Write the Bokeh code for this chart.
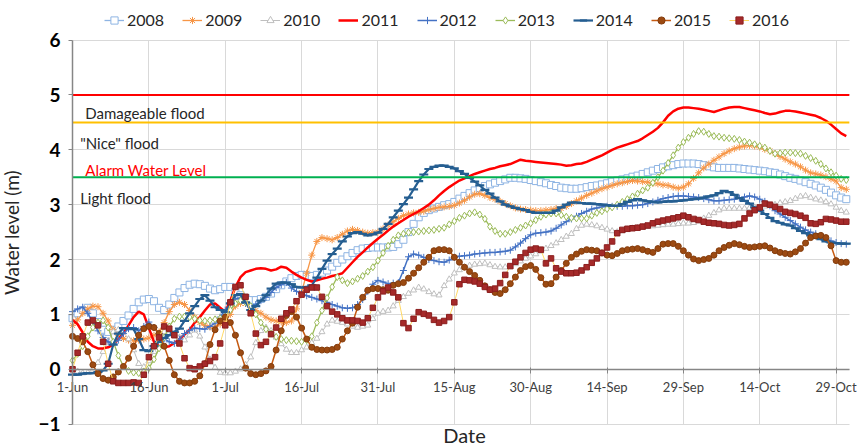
from bokeh.plotting import figure
from bokeh.models import (Range1d, FixedTicker, Label, Legend, LegendItem,
                          ColumnDataSource)
from bokeh.embed import file_html
from bokeh.resources import INLINE

# ---------------- data ----------------
tick_days = [0, 15, 30, 45, 60, 75, 90, 105, 120, 135, 150]
tick_labels = ["1-Jun", "16-Jun", "1-Jul", "16-Jul", "31-Jul", "15-Aug",
               "30-Aug", "14-Sep", "29-Sep", "14-Oct", "29-Oct"]
y_ticks = [-1, 0, 1, 2, 3, 4, 5, 6]

years = ["2008", "2009", "2010", "2011", "2012", "2013", "2014", "2015", "2016"]

lvl_2008 = [0.93, 1.02, 1.08, 1.12, 1.02, 0.86, 0.72, 0.68, 0.72, 0.78,
            0.88, 0.98, 1.10, 1.22, 1.27, 1.28, 1.24, 1.12, 1.08, 1.18,
            1.30, 1.40, 1.48, 1.54, 1.56, 1.55, 1.52, 1.47, 1.44, 1.46,
            1.50, 1.50, 1.42, 1.35, 1.30, 1.26, 1.26, 1.28, 1.32, 1.38,
            1.46, 1.53, 1.60, 1.66, 1.70, 1.72, 1.71, 1.70, 1.72, 1.76,
            1.80, 1.87, 1.94, 2.00, 2.06, 2.12, 2.17, 2.20, 2.21, 2.22,
            2.22, 2.22, 2.22, 2.23, 2.28, 2.36, 2.50, 2.65, 2.77, 2.85,
            2.90, 2.93, 2.96, 2.99, 3.01, 3.05, 3.11, 3.16, 3.21, 3.26,
            3.30, 3.34, 3.37, 3.40, 3.43, 3.46, 3.49, 3.49, 3.48, 3.47,
            3.45, 3.43, 3.41, 3.39, 3.36, 3.34, 3.31, 3.30, 3.29, 3.29,
            3.30, 3.32, 3.34, 3.35, 3.37, 3.39, 3.42, 3.44, 3.46, 3.48,
            3.51, 3.53, 3.56, 3.59, 3.62, 3.65, 3.68, 3.70, 3.72, 3.74,
            3.75, 3.75, 3.75, 3.74, 3.72, 3.70, 3.68, 3.67, 3.67, 3.67,
            3.67, 3.66, 3.65, 3.64, 3.63, 3.62, 3.61, 3.59, 3.58, 3.55,
            3.52, 3.49, 3.47, 3.44, 3.41, 3.38, 3.35, 3.31, 3.27, 3.22,
            3.17, 3.13, 3.10]

lvl_2009 = [0.80, 0.90, 1.02, 1.10, 1.15, 1.14, 1.02, 0.88, 0.72, 0.62,
            0.56, 0.53, 0.52, 0.53, 0.55, 0.57, 0.62, 0.68, 0.85, 1.05,
            1.18, 1.22, 1.18, 1.07, 0.95, 0.85, 0.80, 0.77, 0.78, 0.82,
            0.88, 1.00, 1.15, 1.20, 1.20, 1.14, 1.07, 1.02, 0.95, 0.90,
            0.88, 0.86, 0.85, 0.88, 1.10, 1.40, 1.75, 2.08, 2.33, 2.40,
            2.38, 2.36, 2.40, 2.46, 2.52, 2.55, 2.53, 2.50, 2.48, 2.49,
            2.50, 2.56, 2.63, 2.69, 2.75, 2.80, 2.83, 2.85, 2.86, 2.88,
            2.91, 2.93, 2.95, 2.96, 2.97, 2.99, 3.03, 3.08, 3.14, 3.19,
            3.20, 3.17, 3.13, 3.10, 3.06, 3.02, 2.98, 2.94, 2.92, 2.91,
            2.90, 2.89, 2.89, 2.90, 2.91, 2.93, 2.93, 2.97, 3.02, 3.07,
            3.12, 3.17, 3.21, 3.25, 3.29, 3.32, 3.35, 3.38, 3.40, 3.42,
            3.44, 3.43, 3.42, 3.41, 3.39, 3.38, 3.36, 3.35, 3.32, 3.30,
            3.32, 3.38, 3.48, 3.58, 3.67, 3.74, 3.81, 3.87, 3.93, 3.98,
            4.02, 4.05, 4.07, 4.08, 4.07, 4.05, 4.01, 3.98, 3.93, 3.88,
            3.83, 3.78, 3.74, 3.69, 3.63, 3.58, 3.56, 3.54, 3.51, 3.47,
            3.43, 3.31, 3.28]

lvl_2010 = [0.00, -0.04, -0.07, -0.06, 0.00, 0.12, 0.32, 0.52, 0.68, 0.72,
            0.68, 0.55, 0.35, 0.10, 0.04, 0.15, 0.32, 0.52, 0.68, 0.70,
            0.65, 0.58, 0.53, 0.62, 0.71, 0.60, 0.40, 0.18, 0.03, -0.06,
            -0.07, -0.07, -0.04, 0.00, 0.08, 0.22, 0.48, 0.70, 0.76, 0.70,
            0.58, 0.46, 0.36, 0.30, 0.30, 0.35, 0.40, 0.48, 0.56, 0.68,
            0.82, 0.89, 0.87, 0.85, 0.82, 0.78, 0.76, 0.78, 0.80, 0.92,
            1.02, 1.05, 1.07, 1.15, 1.25, 1.32, 1.38, 1.44, 1.49, 1.46,
            1.41, 1.37, 1.35, 1.52, 1.64, 1.75, 1.81, 1.86, 1.89, 1.91,
            1.92, 1.93, 1.90, 1.87, 1.86, 1.86, 1.87, 1.92, 1.97, 2.02,
            2.06, 2.10, 2.15, 2.20, 2.25, 2.30, 2.36, 2.42, 2.47, 2.56,
            2.62, 2.64, 2.63, 2.61, 2.58, 2.55, 2.52, 2.50, 2.52, 2.55,
            2.57, 2.58, 2.59, 2.60, 2.61, 2.62, 2.63, 2.64, 2.64, 2.65,
            2.66, 2.66, 2.67, 2.70, 2.75, 2.80, 2.85, 2.90, 2.93, 2.93,
            2.93, 2.93, 2.93, 2.94, 2.95, 2.96, 2.97, 2.98, 3.00, 3.03,
            3.05, 3.07, 3.11, 3.15, 3.16, 3.13, 3.10, 3.08, 3.05, 3.01,
            2.95, 2.89, 2.86]

lvl_2011 = [0.90, 0.82, 0.67, 0.50, 0.42, 0.38, 0.38, 0.40, 0.45, 0.55,
            0.65, 0.80, 0.95, 1.05, 1.00, 0.75, 0.50, 0.42, 0.40, 0.42,
            0.48, 0.55, 0.63, 0.72, 0.85, 0.95, 1.07, 1.18, 1.20, 1.12,
            1.05, 1.25, 1.50, 1.68, 1.77, 1.80, 1.83, 1.84, 1.83, 1.80,
            1.82, 1.87, 1.85, 1.78, 1.72, 1.67, 1.63, 1.60, 1.62, 1.65,
            1.67, 1.70, 1.72, 1.75, 1.85, 1.95, 2.05, 2.13, 2.22, 2.30,
            2.38, 2.45, 2.53, 2.60, 2.66, 2.72, 2.78, 2.83, 2.88, 2.94,
            3.00, 3.08, 3.17, 3.25, 3.32, 3.38, 3.44, 3.48, 3.52, 3.56,
            3.59, 3.62, 3.65, 3.67, 3.70, 3.72, 3.74, 3.78, 3.82, 3.80,
            3.79, 3.78, 3.77, 3.76, 3.75, 3.74, 3.73, 3.71, 3.72, 3.74,
            3.75, 3.78, 3.82, 3.86, 3.90, 3.95, 4.00, 4.04, 4.07, 4.10,
            4.13, 4.16, 4.21, 4.27, 4.33, 4.40, 4.50, 4.62, 4.70, 4.75,
            4.77, 4.77, 4.76, 4.75, 4.73, 4.71, 4.69, 4.72, 4.75, 4.77,
            4.78, 4.78, 4.76, 4.74, 4.72, 4.70, 4.67, 4.65, 4.66, 4.69,
            4.71, 4.71, 4.70, 4.68, 4.66, 4.64, 4.62, 4.58, 4.53, 4.46,
            4.38, 4.30, 4.25]

lvl_2012 = [1.05, 1.10, 1.13, 1.02, 0.85, 0.70, 0.58, 0.50, 0.47, 0.53,
            0.65, 0.74, 0.76, 0.70, 0.78, 0.86, 0.76, 0.65, 0.56, 0.50,
            0.47, 0.55, 0.65, 0.71, 0.75, 0.74, 0.73, 0.78, 0.84, 0.95,
            1.08, 1.18, 1.28, 1.30, 1.20, 1.13, 1.18, 1.25, 1.31, 1.40,
            1.49, 1.54, 1.58, 1.48, 1.42, 1.38, 1.34, 1.31, 1.28, 1.25,
            1.22, 1.18, 1.15, 1.12, 1.11, 1.12, 1.18, 1.27, 1.42, 1.55,
            1.62, 1.59, 1.56, 1.57, 1.58, 1.80, 2.05, 2.10, 2.08, 2.04,
            2.00, 1.98, 1.96, 1.95, 1.99, 2.04, 2.06, 2.07, 2.08, 2.10,
            2.11, 2.12, 2.13, 2.13, 2.14, 2.15, 2.17, 2.23, 2.30, 2.38,
            2.45, 2.48, 2.49, 2.50, 2.52, 2.57, 2.63, 2.69, 2.74, 2.79,
            2.84, 2.88, 2.92, 2.94, 2.96, 2.97, 2.97, 2.97, 2.97, 2.98,
            2.98, 2.99, 3.00, 3.02, 3.05, 3.08, 3.11, 3.13, 3.15, 3.16,
            3.16, 3.15, 3.14, 3.13, 3.11, 3.09, 3.07, 3.07, 3.08, 3.09,
            3.10, 3.12, 3.14, 3.16, 3.14, 3.10, 3.06, 2.98, 2.89, 2.83,
            2.77, 2.71, 2.65, 2.59, 2.54, 2.50, 2.47, 2.43, 2.38, 2.34,
            2.31, 2.29, 2.28]

lvl_2013 = [0.16, 0.28, 0.42, 0.60, 0.76, 0.85, 0.89, 0.76, 0.50, 0.25,
            0.05, -0.03, -0.06, -0.07, -0.04, 0.02, 0.18, 0.38, 0.58, 0.78,
            0.92, 0.96, 0.96, 0.95, 0.92, 0.89, 0.88, 0.89, 0.91, 0.93,
            0.96, 1.08, 1.20, 1.25, 1.22, 1.15, 1.00, 0.85, 0.73, 0.65,
            0.59, 0.55, 0.53, 0.52, 0.51, 0.50, 0.53, 0.60, 0.85, 1.07,
            1.30, 1.50, 1.68, 1.62, 1.57, 1.60, 1.65, 1.70, 1.78, 1.86,
            1.98, 2.12, 2.25, 2.36, 2.44, 2.47, 2.49, 2.50, 2.51, 2.52,
            2.53, 2.54, 2.56, 2.58, 2.64, 2.70, 2.76, 2.80, 2.84, 2.86,
            2.82, 2.74, 2.60, 2.52, 2.47, 2.47, 2.50, 2.54, 2.58, 2.62,
            2.66, 2.72, 2.78, 2.82, 2.84, 2.84, 2.81, 2.78, 2.76, 2.75,
            2.75, 2.75, 2.80, 2.85, 2.88, 2.92, 2.95, 3.00, 3.05, 3.10,
            3.15, 3.20, 3.26, 3.31, 3.40, 3.50, 3.62, 3.76, 3.90, 4.04,
            4.14, 4.22, 4.29, 4.34, 4.33, 4.29, 4.25, 4.24, 4.22, 4.21,
            4.20, 4.18, 4.15, 4.13, 4.10, 4.07, 4.04, 3.98, 3.93, 3.94,
            3.95, 3.95, 3.94, 3.93, 3.89, 3.85, 3.80, 3.74, 3.66, 3.59,
            3.53, 3.47, 3.45]

lvl_2014 = [-0.10, -0.10, -0.08, -0.07, -0.07, -0.05, -0.02, 0.10, 0.45, 0.65,
            0.75, 0.75, 0.73, 0.55, 0.35, 0.33, 0.42, 0.50, 0.57, 0.62,
            0.68, 0.74, 0.88, 1.02, 1.15, 1.28, 1.35, 1.25, 1.13, 1.08,
            1.04, 1.20, 1.35, 1.37, 1.22, 1.08, 1.15, 1.25, 1.35, 1.47,
            1.56, 1.58, 1.58, 1.55, 1.50, 1.49, 1.50, 1.53, 1.67, 1.83,
            1.98, 2.10, 2.20, 2.33, 2.42, 2.48, 2.50, 2.47, 2.44, 2.46,
            2.49, 2.56, 2.65, 2.77, 2.89, 3.01, 3.13, 3.28, 3.43, 3.55,
            3.65, 3.69, 3.71, 3.71, 3.69, 3.66, 3.61, 3.56, 3.49, 3.42,
            3.35, 3.27, 3.20, 3.13, 3.06, 3.00, 2.97, 2.94, 2.92, 2.90,
            2.87, 2.85, 2.85, 2.85, 2.85, 2.89, 2.95, 3.00, 3.04, 3.04,
            3.03, 3.02, 3.02, 3.01, 3.00, 2.99, 2.98, 2.98, 3.01, 3.05,
            3.08, 3.10, 3.08, 3.06, 3.05, 3.04, 3.05, 3.06, 3.06, 3.07,
            3.08, 3.09, 3.10, 3.11, 3.13, 3.15, 3.17, 3.21, 3.25, 3.23,
            3.18, 3.12, 3.07, 3.02, 2.95, 2.89, 2.83, 2.76, 2.70, 2.67,
            2.64, 2.62, 2.57, 2.52, 2.48, 2.44, 2.40, 2.37, 2.33, 2.31,
            2.30, 2.29, 2.29]

lvl_2015 = [0.60, 0.56, 0.50, 0.32, 0.08, -0.08, -0.17, -0.20, -0.14, -0.05,
            0.05, 0.20, 0.42, 0.62, 0.74, 0.78, 0.76, 0.65, 0.42, 0.16,
            -0.10, -0.22, -0.25, -0.25, -0.22, -0.12, 0.10, 0.45, 0.72, 0.88,
            0.95, 0.85, 0.62, 0.30, 0.02, -0.08, -0.10, -0.08, -0.03, 0.05,
            0.35, 0.70, 0.98, 1.05, 0.95, 0.75, 0.55, 0.40, 0.36, 0.35,
            0.35, 0.36, 0.40, 0.55, 0.70, 0.84, 1.13, 1.31, 1.44, 1.47,
            1.47, 1.45, 1.44, 1.53, 1.56, 1.58, 1.66, 1.75, 1.85, 1.95,
            2.04, 2.16, 2.18, 2.18, 2.16, 2.04, 1.95, 1.86, 1.78, 1.71,
            1.62, 1.52, 1.45, 1.40, 1.38, 1.45, 1.56, 1.68, 1.80, 1.87,
            1.89, 1.82, 1.67, 1.55, 1.56, 1.68, 1.80, 1.93, 2.04, 2.10,
            2.15, 2.18, 2.17, 2.16, 2.12, 2.08, 2.07, 2.11, 2.16, 2.18,
            2.19, 2.20, 2.18, 2.15, 2.13, 2.20, 2.28, 2.29, 2.29, 2.24,
            2.16, 2.08, 2.01, 1.98, 2.00, 2.02, 2.08, 2.16, 2.22, 2.26,
            2.29, 2.27, 2.24, 2.22, 2.23, 2.24, 2.25, 2.21, 2.16, 2.13,
            2.11, 2.10, 2.14, 2.20, 2.30, 2.40, 2.43, 2.44, 2.40, 2.25,
            1.98, 1.95, 1.95]

lvl_2016 = [0.00, 0.30, 0.60, 0.85, 0.89, 0.80, 0.50, 0.10, -0.22, -0.25,
            -0.25, -0.25, -0.24, -0.25, -0.10, 0.22, 0.42, 0.58, 0.78, 0.74,
            0.62, 0.47, 0.20, 0.02, 0.00, 0.05, 0.10, 0.15, 0.22, 0.47,
            0.80, 1.22, 1.50, 1.53, 1.32, 1.02, 0.65, 0.44, 0.50, 0.64,
            0.76, 0.92, 1.02, 1.09, 1.24, 1.36, 1.45, 1.49, 1.49, 1.32,
            1.15, 1.05, 1.00, 0.93, 0.89, 0.89, 0.88, 0.85, 0.93, 1.12,
            1.31, 1.42, 1.49, 1.40, 1.31, 0.84, 0.75, 0.92, 1.04, 1.01,
            0.98, 0.90, 0.85, 0.88, 0.95, 1.22, 1.55, 1.63, 1.62, 1.60,
            1.56, 1.50, 1.45, 1.47, 1.57, 1.72, 1.88, 1.96, 2.04, 2.12,
            2.18, 2.20, 2.18, 1.93, 2.02, 1.84, 1.78, 1.75, 1.75, 1.76,
            1.80, 1.86, 1.94, 2.02, 2.12, 2.22, 2.33, 2.48, 2.54, 2.56,
            2.57, 2.58, 2.60, 2.62, 2.66, 2.69, 2.71, 2.73, 2.75, 2.77,
            2.80, 2.77, 2.74, 2.72, 2.69, 2.67, 2.66, 2.65, 2.63, 2.62,
            2.63, 2.65, 2.75, 2.84, 2.90, 2.95, 3.02, 3.00, 2.96, 2.92,
            2.87, 2.85, 2.83, 2.80, 2.76, 2.66, 2.65, 2.68, 2.74, 2.73,
            2.71, 2.69, 2.69]

flood_levels = [5.0, 4.5, 3.5]
zone_texts = ["Damageable flood", "\"Nice\" flood", "Alarm Water Level", "Light flood"]
zone_text_y = [4.67, 4.13, 3.63, 3.13]

days = list(range(len(lvl_2008)))

# ---------------- figure ----------------
FONT = "Lato"
X_END = 152.6          # right end of the plotted date axis
# The frame covers the whole canvas; both axes sit inside it at x=0 / y=0 so
# that the annotations (legend, "Date") are not clipped.
p = figure(width=858, height=448, x_range=Range1d(-14.15, 154.4),
           y_range=Range1d(-1.445, 6.722),
           output_backend="svg", toolbar_location=None)
p.min_border_left = 0
p.min_border_right = 0
p.min_border_top = 0
p.min_border_bottom = 0
p.outline_line_color = None

# x axis on the zero line
xa = p.xaxis[0]
xa.ticker = FixedTicker(ticks=tick_days)
xa.major_label_overrides = {d: l for d, l in zip(tick_days, tick_labels)}
xa.fixed_location = 0
xa.bounds = (0, X_END)
xa.axis_line_color = "#868686"
xa.axis_line_width = 1.5
xa.major_tick_line_color = "#868686"
xa.major_tick_out = 4
xa.major_tick_in = 2
xa.minor_tick_line_color = None
xa.major_label_text_font = FONT
xa.major_label_text_font_size = "13px"
xa.major_label_text_color = "#404040"
xa.major_label_standoff = 6

# y axis on x = 0 (1-Jun)
ya = p.yaxis[0]
ya.ticker = FixedTicker(ticks=y_ticks)
ya.fixed_location = 0
ya.bounds = (-1, 6)
ya.axis_line_color = "#868686"
ya.axis_line_width = 1.5
ya.major_tick_line_color = "#868686"
ya.major_tick_out = 4
ya.major_tick_in = 0
ya.minor_tick_line_color = None
ya.major_label_text_font = FONT
ya.major_label_text_font_size = "19px"
ya.major_label_text_font_style = "bold"
ya.major_label_text_color = "black"
ya.major_label_standoff = 8
ya.axis_label = "Water level (m)"
ya.axis_label_text_font = FONT
ya.axis_label_text_font_size = "19px"
ya.axis_label_text_font_style = "normal"
ya.axis_label_text_color = "#262626"
ya.axis_label_standoff = 12

p.xgrid.ticker = FixedTicker(ticks=tick_days)
p.ygrid.ticker = FixedTicker(ticks=y_ticks)
p.xgrid.grid_line_color = "#D9D9D9"
p.ygrid.grid_line_color = "#D9D9D9"
p.xgrid[0].cross_bounds = (-1, 6)
p.ygrid[0].cross_bounds = (0, X_END)

# series styles
styles = {
    "2008": dict(color="#8EB4E3", marker="square", size=7, fill="white", lw=1.3, mlw=1.0),
    "2009": dict(color="#F79646", marker="asterisk", size=7, fill="#F79646", lw=1.3, mlw=1.0),
    "2010": dict(color="#BFBFBF", marker="triangle", size=6, fill="white", lw=1.0, mlw=1.0),
    "2011": dict(color="#FF0000", marker=None, size=0, fill=None, lw=2.5, mlw=0),
    "2012": dict(color="#4472C4", marker="cross", size=7, fill="#4472C4", lw=1.5, mlw=1.0),
    "2013": dict(color="#9BBB59", marker="diamond", size=7, fill="white", lw=1.3, mlw=1.0),
    "2014": dict(color="#255E91", marker="dash", size=9, fill="#255E91", lw=2.2, mlw=2.2),
    "2015": dict(color="#C55A11", marker="circle", size=6, fill="#9C4A12", lw=1.5, mlw=1.0),
    "2016": dict(color="#FFD966", marker="square", size=5.5, fill="#A52A2A", lw=1.0, mlw=1.0),
}
marker_line = {"2015": "#843C0C", "2016": "#8B1E1E"}

series = [lvl_2008, lvl_2009, lvl_2010, lvl_2011, lvl_2012, lvl_2013,
          lvl_2014, lvl_2015, lvl_2016]

items = []
for yr, vals in zip(years, series):
    st = styles[yr]
    src = ColumnDataSource(dict(x=days, y=vals))
    rs = []
    rl = p.line("x", "y", source=src, line_color=st["color"], line_width=st["lw"])
    rs.append(rl)
    if st["marker"] is not None:
        mcol = marker_line.get(yr, st["color"])
        rm = p.scatter("x", "y", source=src, marker=st["marker"], size=st["size"],
                       line_color=mcol, fill_color=st["fill"], line_width=st["mlw"])
        rs.append(rm)
    items.append(LegendItem(label=yr, renderers=rs))

# flood threshold lines across the date axis
flood_colors = ["#FF0000", "#FFC000", "#00B050"]
p.segment(x0=[0] * len(flood_levels), y0=flood_levels,
          x1=[X_END] * len(flood_levels), y1=flood_levels,
          line_color=flood_colors, line_width=2)

text_colors = ["#262626", "#262626", "#FF0000", "#262626"]
text_x = [2.5, 1.5, 2.5, 1.5]
for t, ty, tx, tc in zip(zone_texts, zone_text_y, text_x, text_colors):
    p.add_layout(Label(x=tx, y=ty, text=t, text_font=FONT, text_font_size="15px",
                       text_color=tc, text_baseline="middle", text_align="left"))

# x axis title at the bottom
p.add_layout(Label(x=77, y=-1.2, text="Date",
                   text_font=FONT, text_font_size="20px", text_color="#262626",
                   text_align="center", text_baseline="middle"))

# legend across the top strip
legend = Legend(items=items, orientation="horizontal", location=(104, 419),
                label_text_font=FONT, label_text_font_size="16px",
                label_text_color="#262626", glyph_width=20, glyph_height=18,
                label_standoff=3, spacing=18, padding=2, margin=0,
                border_line_color=None, background_fill_alpha=0)
p.add_layout(legend)

open("out.html", "w").write(file_html(p, INLINE))
